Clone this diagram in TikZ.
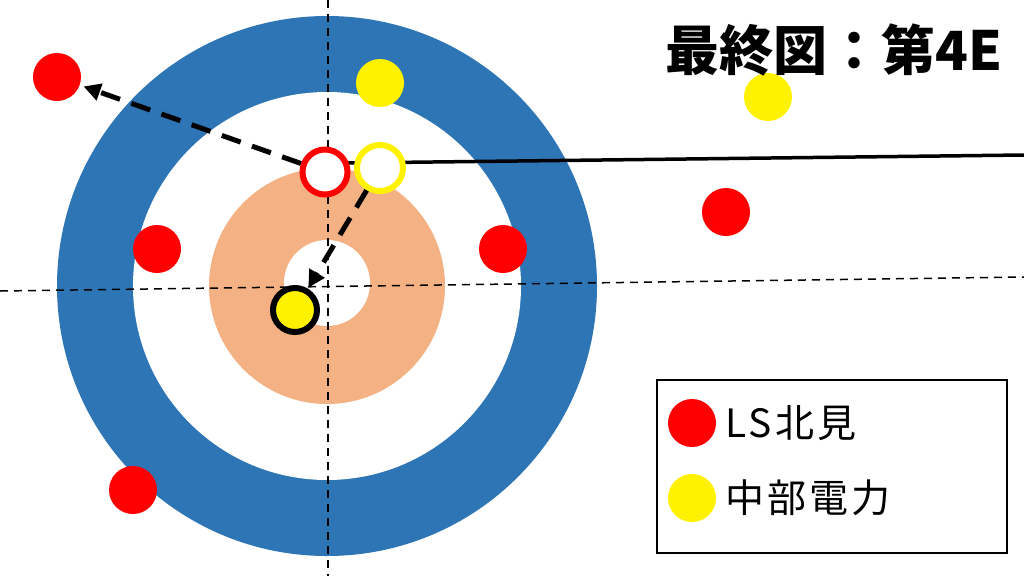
\documentclass[tikz,border=0pt]{standalone}
\usepackage{fontspec}
\newfontfamily\cjk{Noto Sans CJK JP}
\newfontfamily\cjkwide{Noto Sans CJK JP}[LetterSpace=8]
\usetikzlibrary{arrows.meta,positioning}
\definecolor{houseblue}{HTML}{2E75B6}
\definecolor{houseorange}{HTML}{F4B183}

\begin{document}
\begin{tikzpicture}[x=1pt, y=-1pt,
      font=\cjk,
      stone/.style={circle, minimum size=48pt, inner sep=0pt},
      redstone/.style={stone, fill=red},
      yelstone/.style={stone, fill=yellow},
      ringstone/.style={circle, minimum size=45pt, inner sep=0pt, fill=white, line width=6pt},
      guide/.style={line width=1.5pt, dash pattern=on 8pt off 6pt},
      arr/.style={-{Triangle[length=17pt,width=17pt]}, line width=5pt,
        dash pattern=on 20pt off 12pt, shorten >=4pt},
      lbl/.style={anchor=west, inner sep=0pt, font=\cjkwide\fontsize{39}{45}\selectfont},
    ]
    \useasboundingbox[fill=white] (0,0) rectangle (1024,576);

    % house rings
    \coordinate (tee) at (327,286);
    \fill[houseblue] (tee) circle[radius=270];
    \fill[white] (tee) circle[radius=194];
    \fill[houseorange] (tee) circle[radius=118];
    \fill[white] (327,283) circle[radius=43];

    % centre line and tee line
    \coordinate (ctop) at (328,0);
    \coordinate (cbot) at (328,576);
    \coordinate (tleft) at (0,291);
    \coordinate (tright) at (1024,277);
    \draw[guide] (ctop) -- (cbot);
    \draw[guide] (tleft) -- (tright);

    % path of the last stone
    \coordinate (lstart) at (348,163);
    \coordinate (lend) at (1024,155);
    \draw[line width=3.5pt] (lstart) -- (lend);

    % stones in play
    \node[redstone] (r1) at (57,77) {};
    \node[redstone] (r2) at (157,249) {};
    \node[redstone] (r3) at (503,249) {};
    \node[redstone] (r4) at (726,212) {};
    \node[redstone] (r5) at (133,490) {};
    \node[yelstone] (y1) at (380,83) {};
    \node[yelstone] (y2) at (768,97) {};
    \node[ringstone, draw=red] (rold) at (325,172) {};
    \node[ringstone, draw=yellow, minimum size=46pt] (yold) at (380,168) {};
    \node[circle, minimum size=44pt, inner sep=0pt, fill=yellow, draw=black,
      line width=6pt] (ynew) at (295,310) {};

    % moves
    \draw[arr] (rold) -- (r1);
    \draw[arr, shorten >=1pt] (yold) -- (ynew);

    % title
    \node[font=\cjk\bfseries\fontsize{54}{64}\selectfont, inner sep=0pt] (title)
      at (834,50) {最終図：第4E};

    % legend
    \node[draw, line width=2.5pt, minimum width=350pt, minimum height=173pt,
      inner sep=0pt] (legend) at (832,466.5) {};
    \node[redstone] (kr) at (692,423) {};
    \node[yelstone] (ky) at (692,498) {};
    \node[lbl, right=9pt of kr] (krl) {LS北見};
    \node[lbl, right=9pt of ky] (kyl) {中部電力};
  \end{tikzpicture}
\end{document}
